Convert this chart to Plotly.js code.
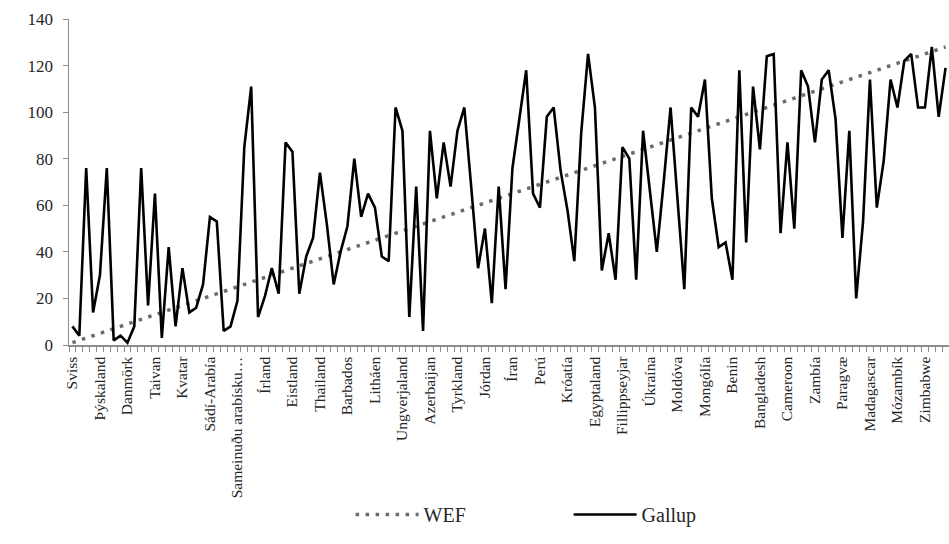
<!DOCTYPE html>
<html>
<head>
<meta charset="utf-8">
<script src="https://cdn.plot.ly/plotly-3.0.1.min.js"></script>
<style>html,body{margin:0;padding:0;background:#fff;}#chart{width:949px;height:544px;}</style>
</head>
<body>
<div id="chart"></div>
<script>
// Tick labels (every 4th country)
const tickLabels = ["Sviss","Þýskaland","Danmörk","Taivan","Kvatar","Sádí-Arabía","Sameinuðu arabísku…","Írland",
  "Eistland","Thailand","Barbados","Litháen","Ungverjaland","Azerbaijan","Tyrkland","Jórdan",
  "Íran","Perú","Króatía","Egyptaland","Fillippseyjar","Úkraína","Moldóva","Mongólía",
  "Benin","Bangladesh","Cameroon","Zambía","Paragvæ","Madagascar","Mózambík","Zimbabwe"];

// WEF rank (country order)
const wef = [1,2,3,4,5,6,7,8,9,10,11,12,13,14,15,16,17,18,19,20,21,22,23,24,25,26,27,28,29,30,
  31,32,33,34,35,36,37,38,39,40,41,42,43,44,45,46,47,48,49,50,51,52,53,54,55,56,57,58,59,60,
  61,62,63,64,65,66,67,68,69,70,71,72,73,74,75,76,77,78,79,80,81,82,83,84,85,86,87,88,89,90,
  91,92,93,94,95,96,97,98,99,100,101,102,103,104,105,106,107,108,109,110,111,112,113,114,115,116,117,118,119,120,
  121,122,123,124,125,126,127,128];

// Gallup rank
const gallup = [8,4,76,14,30,76,2,4,1,8,76,17,65,3,42,8,33,14,16,26,
  55,53,6,8,19,85,111,12,21,33,22,87,83,22,38,46,74,52,26,40,
  51,80,55,65,59,38,36,102,92,12,68,6,92,63,87,68,92,102,68,33,
  50,18,68,24,76,97,118,65,59,98,102,75,58,36,91,125,102,32,48,28,
  85,80,28,92,66,40,70,102,63,24,102,98,114,63,42,44,28,118,44,111,
  84,124,125,48,87,50,118,111,87,114,118,97,46,92,20,53,114,59,79,114,
  102,122,125,102,102,128,98,119];

const xs = gallup.map((_, i) => i);
const tickvals = tickLabels.map((_, k) => k * 4);
const font = "Liberation Serif";

const traces = [
  {x: xs, y: wef, name: 'WEF', type: 'scatter', mode: 'lines',
   line: {color: '#6b6b6b', width: 3.5, dash: '3.5px,6.5px'}},
  {x: xs, y: gallup, name: 'Gallup', type: 'scatter', mode: 'lines',
   line: {color: '#000000', width: 2.6}}
];

const layout = {
  width: 949, height: 544,
  margin: {l: 69, r: 0, t: 19, b: 199},
  paper_bgcolor: '#fff', plot_bgcolor: '#fff',
  font: {family: font, color: '#262626', size: 16},
  showlegend: true,
  legend: {orientation: 'h', x: 0.32, xanchor: 'left', y: -0.52, yanchor: 'middle',
           font: {family: font, size: 20, color: '#262626'}, itemwidth: 63, entrywidth: 140,
           bgcolor: 'rgba(0,0,0,0)'},
  xaxis: {
    range: [-0.5, 127.5], showgrid: false, zeroline: false,
    showline: true, linecolor: '#8c8c8c', linewidth: 1.5,
    tickmode: 'array', tickvals: tickvals, ticktext: tickLabels,
    ticks: '', tickangle: -90, tickfont: {family: font, size: 15.5, color: '#262626'},
    ticklabelstandoff: 4,
    minor: {ticks: 'outside', tick0: 0.5, dtick: 1, ticklen: 5, tickcolor: '#8c8c8c', tickwidth: 1, showgrid: false}
  },
  yaxis: {
    range: [0, 140], dtick: 20, showgrid: false, zeroline: false,
    showline: true, linecolor: '#8c8c8c', linewidth: 1.5,
    ticks: 'outside', ticklen: 5, tickcolor: '#8c8c8c',
    tickfont: {family: font, size: 17, color: '#262626'},
    ticklabelstandoff: 6
  }
};

Plotly.newPlot('chart', traces, layout, {displayModeBar: false, staticPlot: true});
</script>
</body>
</html>
